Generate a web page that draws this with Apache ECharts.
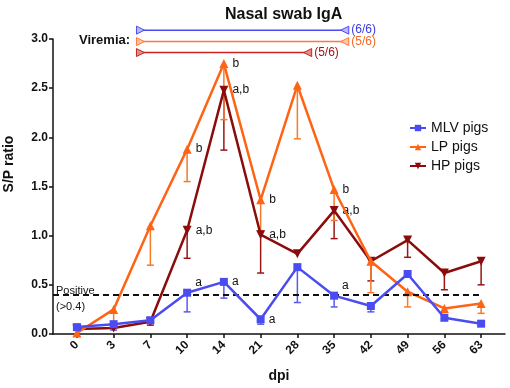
<!DOCTYPE html>
<html>
<head>
<meta charset="utf-8">
<script src="https://cdn.jsdelivr.net/npm/echarts@6/dist/echarts.min.js"></script>
<style>html,body{margin:0;padding:0;background:#fff}#c{width:510px;height:388px}</style>
</head>
<body>
<div id="c"></div>
<script>
const categories = ['0','3','7','10','14','21','28','35','42','49','56','63'];
const yTicks = [0, 0.5, 1.0, 1.5, 2.0, 2.5, 3.0];

const mlvMean = [0.07,0.10,0.14,0.42,0.53,0.15,0.68,0.39,0.285,0.61,0.165,0.105];
const mlvErr  = [null,0.04,0.12,0.225,0.365,0.10,0.32,0.275,0.225,null,null,null];
const mlvLetters = ['','','','a','a','a','','a','','','',''];

const lpMean = [0.01,0.25,1.10,1.88,2.75,1.365,2.53,1.47,0.74,0.43,0.26,0.31];
const lpErr  = [null,0.10,0.70,1.55,2.18,1.05,1.985,1.155,0.42,0.275,0.22,0.21];
const lpLetters = ['','','','b','b','b','','b','','','',''];

const hpMean = [0.05,0.06,0.125,1.055,2.48,1.01,0.815,1.255,0.74,0.955,0.62,0.74];
const hpErr  = [null,null,0.09,0.77,1.87,0.62,null,0.97,0.54,0.78,0.45,0.50];
const hpLetters = ['','','','a,b','a,b','a,b','','a,b','','','',''];

const viremiaStart = [1.73, 1.73, 1.73];
const viremiaEnd   = [7.29, 7.29, 6.28];
const viremiaLevel = [3.09, 2.974, 2.862];
const viremiaText  = ['(6/6)', '(5/6)', '(5/6)'];

const positiveThreshold = 0.4;

const FONT = 'Liberation Sans, Arial, sans-serif';
const XMIN = -0.65, XMAX = 11.65;

function pts(mean, letters, aboveIdx) {
  return mean.map((v, i) => {
    const d = { value: [i, v] };
    if (letters[i]) {
      d.label = {
        show: true, formatter: letters[i], position: 'right',
        distance: 4, color: '#111', fontSize: 12, fontFamily: FONT,
        offset: aboveIdx.indexOf(i) >= 0 ? [0, -10] : [0, 0]
      };
    }
    return d;
  });
}

function errSeries(mean, err, color) {
  const data = [];
  mean.forEach((m, i) => { if (err[i] != null) data.push([i, m, err[i]]); });
  return {
    type: 'custom', silent: true, z: 1,
    renderItem: function (params, api) {
      const x = api.value(0), y = api.value(1), e = api.value(2);
      const p1 = api.coord([x, y]), p2 = api.coord([x, e]);
      const w = 3.5;
      return {
        type: 'group',
        children: [
          { type: 'line', shape: { x1: p1[0], y1: p1[1], x2: p2[0], y2: p2[1] }, style: { stroke: color, lineWidth: 1.5 } },
          { type: 'line', shape: { x1: p2[0] - w, y1: p2[1], x2: p2[0] + w, y2: p2[1] }, style: { stroke: color, lineWidth: 1.5 } }
        ]
      };
    },
    data: data
  };
}

const vColors = ['#4a4af5', '#ff7a3a', '#cc2222'];
const vFill = ['#b8b8ff', '#ffc6a6', '#e08a8a'];
const vTextColors = ['#3a3ae0', '#f06a28', '#a01515'];

const viremiaSeries = viremiaStart.map((s, k) => ({
  type: 'line', clip: false, silent: true, z: 2,
  symbol: 'triangle', symbolSize: 8,
  lineStyle: { color: vColors[k], width: 1.5 },
  itemStyle: { color: vFill[k], borderColor: vColors[k], borderWidth: 1 },
  data: [
    { value: [s, viremiaLevel[k]], symbolRotate: -90 },
    { value: [viremiaEnd[k], viremiaLevel[k]], symbolRotate: 90,
      label: { show: true, position: 'right', distance: 2, formatter: viremiaText[k], color: vTextColors[k], fontSize: 12, fontFamily: FONT } }
  ]
}));

const chart = echarts.init(document.getElementById('c'), null, { renderer: 'canvas' });
chart.setOption({
  animation: false,
  textStyle: { fontFamily: FONT },
  title: {
    text: 'Nasal swab IgA', left: 220, top: 2,
    textStyle: { fontSize: 16, fontWeight: 'bold', color: '#111', fontFamily: FONT }
  },
  legend: {
    data: [
      { name: 'MLV pigs' },
      { name: 'LP pigs' },
      { name: 'HP pigs', symbolRotate: 180 }
    ],
    orient: 'vertical', left: 404, top: 116,
    itemWidth: 16, itemHeight: 8, itemGap: 5,
    textStyle: { fontSize: 14, color: '#111', fontFamily: FONT }
  },
  grid: { left: 53, right: 5, top: 39, bottom: 49, containLabel: false },
  xAxis: {
    type: 'value', min: XMIN, max: XMAX,
    name: 'dpi', nameLocation: 'middle', nameGap: 35,
    nameTextStyle: { fontSize: 14, fontWeight: 'bold', color: '#111', fontFamily: FONT },
    axisLine: { onZero: false, lineStyle: { color: '#111', width: 1.5 } },
    axisTick: { show: true, length: 4, customValues: categories.map((c, i) => i), lineStyle: { color: '#111', width: 1.5 } },
    axisLabel: {
      customValues: categories.map((c, i) => i),
      formatter: v => categories[Math.round(v)],
      rotate: 45, margin: 9, fontSize: 12, fontWeight: 'bold', color: '#111', fontFamily: FONT
    },
    splitLine: { show: false }
  },
  yAxis: {
    type: 'value', min: 0, max: 3, interval: 0.5,
    axisLine: { show: true, onZero: false, lineStyle: { color: '#111', width: 1.5 } },
    axisTick: { show: true, length: 4, lineStyle: { color: '#111', width: 1.5 } },
    axisLabel: { formatter: v => v.toFixed(1), margin: 5, fontSize: 12, fontWeight: 'bold', color: '#111', fontFamily: FONT },
    splitLine: { show: false }
  },
  graphic: [
    { type: 'text', x: 9, y: 164, rotation: Math.PI / 2,
      style: { text: 'S/P ratio', font: 'bold 14px ' + FONT, fill: '#111', textAlign: 'center', textVerticalAlign: 'middle' } },
    { type: 'text', x: 79, y: 40,
      style: { text: 'Viremia:', font: 'bold 13px ' + FONT, fill: '#111', textAlign: 'left', textVerticalAlign: 'middle' } },
    { type: 'text', x: 56, y: 291,
      style: { text: 'Positive', font: '11px ' + FONT, fill: '#111', textAlign: 'left', textVerticalAlign: 'middle' } },
    { type: 'text', x: 56, y: 307,
      style: { text: '(>0.4)', font: '11px ' + FONT, fill: '#111', textAlign: 'left', textVerticalAlign: 'middle' } }
  ],
  series: [
    errSeries(hpMean, hpErr, '#9a1515'),
    errSeries(lpMean, lpErr, '#f57a2a'),
    errSeries(mlvMean, mlvErr, '#5a5af0'),
    {
      name: 'HP pigs', type: 'line', z: 3,
      symbol: 'triangle', symbolSize: 9, symbolRotate: 180,
      lineStyle: { color: '#8b0c0c', width: 2.5 },
      itemStyle: { color: '#8b0c0c' },
      data: pts(hpMean, hpLetters, [])
    },
    {
      name: 'LP pigs', type: 'line', z: 4,
      symbol: 'triangle', symbolSize: 9,
      lineStyle: { color: '#ff6414', width: 2.5 },
      itemStyle: { color: '#ff6414' },
      data: pts(lpMean, lpLetters, []),
      markLine: {
        silent: true, symbol: 'none', label: { show: false },
        lineStyle: { color: '#111', type: [6, 4], width: 2 },
        data: [[{ coord: [XMIN, positiveThreshold] }, { coord: [categories.length - 1, positiveThreshold] }]]
      }
    },
    {
      name: 'MLV pigs', type: 'line', z: 5,
      symbol: 'rect', symbolSize: 8,
      lineStyle: { color: '#4b4bf2', width: 2.5 },
      itemStyle: { color: '#4b4bf2' },
      data: pts(mlvMean, mlvLetters, [3, 7])
    }
  ].concat(viremiaSeries)
});
</script>
</body>
</html>
